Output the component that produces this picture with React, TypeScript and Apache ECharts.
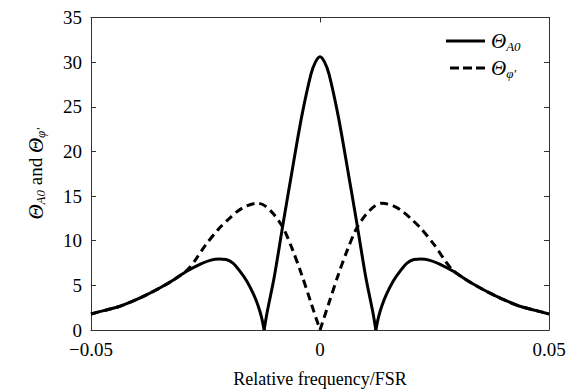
import React, { useEffect, useRef } from "react";
import * as echarts from "echarts";

const xTicks = [-0.05, 0, 0.05];
const yTicks = [0, 5, 10, 15, 20, 25, 30, 35];
const legendNames = ["A0", "φ′"];

const xA0 = [
  -0.05, -0.047, -0.044, -0.041, -0.038, -0.035, -0.032, -0.029, -0.026, -0.024, -0.022, -0.0205, -0.019,
  -0.0175, -0.016, -0.0145, -0.0135, -0.0128, -0.0122, -0.0115, -0.010, -0.008, -0.006, -0.004, -0.002, -0.001, 0,
  0.001, 0.002, 0.004, 0.006, 0.008, 0.010, 0.0115, 0.0122, 0.0128, 0.0135, 0.0145, 0.016, 0.0175, 0.019,
  0.0205, 0.022, 0.024, 0.026, 0.029, 0.032, 0.035, 0.038, 0.041, 0.044, 0.047, 0.05,
];
const yA0 = [
  1.8, 2.2, 2.6, 3.2, 3.9, 4.7, 5.6, 6.6, 7.4, 7.8, 7.95, 7.9, 7.5,
  6.6, 5.5, 4.0, 2.7, 1.5, 0, 2.1, 5.9, 12.1, 18.1, 23.9, 28.6, 30.0, 30.6,
  30.0, 28.6, 23.9, 18.1, 12.1, 5.9, 2.1, 0, 1.5, 2.7, 4.0, 5.5, 6.6, 7.5,
  7.9, 7.95, 7.8, 7.4, 6.6, 5.6, 4.7, 3.9, 3.2, 2.6, 2.2, 1.8,
];

const xPhi = [
  -0.05, -0.047, -0.044, -0.041, -0.038, -0.035, -0.032, -0.029, -0.027, -0.025, -0.022, -0.020, -0.018,
  -0.016, -0.0136, -0.012, -0.010, -0.008, -0.006, -0.004, -0.002, 0,
  0.002, 0.004, 0.006, 0.008, 0.010, 0.012, 0.0136, 0.016, 0.018, 0.020, 0.022, 0.025, 0.027, 0.029,
  0.032, 0.035, 0.038, 0.041, 0.044, 0.047, 0.05,
];
const yPhi = [
  1.8, 2.2, 2.6, 3.2, 3.9, 4.7, 5.6, 6.7, 8.0, 9.5, 11.4, 12.4, 13.3,
  13.9, 14.2, 13.9, 12.9, 11.4, 9.0, 6.2, 3.1, 0,
  3.1, 6.2, 9.0, 11.4, 12.9, 13.9, 14.2, 13.9, 13.3, 12.4, 11.4, 9.5, 8.0, 6.7,
  5.6, 4.7, 3.9, 3.2, 2.6, 2.2, 1.8,
];

const FONT = "Liberation Serif";

const rich = {
  t: { fontFamily: FONT, fontStyle: "italic", fontSize: 21, color: "#000" },
  s: { fontFamily: FONT, fontStyle: "italic", fontSize: 13, color: "#000", padding: [10, 0, 0, 0] },
  n: { fontFamily: FONT, fontSize: 19, color: "#000" },
  d: { fontFamily: FONT, fontSize: 19, color: "#000" },
};

// split a curve into segments at its zero points so that cusps stay sharp
function segments(xs: number[], ys: number[]) {
  const out: number[][][] = [];
  let cur: number[][] = [];
  xs.forEach((x, i) => {
    cur.push([x, ys[i]]);
    if (ys[i] === 0 && i > 0 && i < xs.length - 1) {
      out.push(cur);
      cur = [[x, ys[i]]];
    }
  });
  out.push(cur);
  return out;
}

export default function App() {
  const ref = useRef<HTMLDivElement>(null);
  useEffect(() => {
    if (!ref.current) return;
    const chart = echarts.init(ref.current, null, { renderer: "svg" });
    const axisLine = { show: true, onZero: false, lineStyle: { color: "#333", width: 1 } };
    const tick = { show: true, inside: true, length: 5, lineStyle: { color: "#333" } };
    const solidSeries = segments(xA0, yA0).map((seg) => ({
      name: "A0",
      type: "line",
      data: seg,
      symbol: "none",
      smooth: 0.3,
      lineStyle: { color: "#000", width: 3 },
      itemStyle: { color: "#000" },
    }));
    const dashedSeries = segments(xPhi, yPhi).map((seg) => ({
      name: "phi",
      type: "line",
      data: seg,
      symbol: "none",
      smooth: 0.3,
      lineStyle: { color: "#000", width: 3, type: [8, 5] },
      itemStyle: { color: "#000" },
    }));
    chart.setOption({
      animation: false,
      backgroundColor: "#fff",
      textStyle: { fontFamily: FONT },
      grid: { left: 83, right: 34, top: 9, bottom: 70 },
      graphic: [
        { type: "line", shape: { x1: 438, y1: 33, x2: 477, y2: 33 }, style: { stroke: "#000", lineWidth: 3 } },
        {
          type: "text",
          x: 483,
          y: 33,
          style: { text: "{t|Θ}{s|" + legendNames[0] + "}", rich, verticalAlign: "middle" },
        },
        {
          type: "line",
          shape: { x1: 442, y1: 60, x2: 477, y2: 60 },
          style: { stroke: "#000", lineWidth: 3, lineDash: [9, 4] },
        },
        {
          type: "text",
          x: 483,
          y: 60,
          style: { text: "{t|Θ}{s|" + legendNames[1] + "}", rich, verticalAlign: "middle" },
        },
      ],
      xAxis: [
        {
          type: "value",
          min: -0.05,
          max: 0.05,
          interval: 0.05,
          axisLine,
          axisTick: tick,
          splitLine: { show: false },
          axisLabel: {
            margin: 10,
            rich,
            formatter: (v: number) => {
              const r = Math.round(v * 100) / 100;
              const t = xTicks.find((k) => Math.abs(k - r) < 1e-9);
              if (t === undefined) return "";
              return "{d|" + (t < 0 ? "\u2212" + String(-t) : String(t)) + "}";
            },
          },
          name: "Relative frequency/FSR",
          nameLocation: "middle",
          nameGap: 40,
          nameTextStyle: { fontFamily: FONT, fontSize: 18, color: "#000" },
        },
        {
          type: "value",
          position: "top",
          min: -0.05,
          max: 0.05,
          interval: 0.05,
          axisLine,
          axisTick: tick,
          axisLabel: { show: false },
          splitLine: { show: false },
        },
      ],
      yAxis: [
        {
          type: "value",
          min: yTicks[0],
          max: yTicks[yTicks.length - 1],
          interval: 5,
          axisLine,
          axisTick: tick,
          splitLine: { show: false },
          axisLabel: { margin: 9, rich, formatter: (v: number) => "{d|" + v + "}" },
          name: "{t|Θ}{s|A0}{n| and }{t|Θ}{s|φ′}",
          nameLocation: "middle",
          nameRotate: 90,
          nameGap: 44,
          nameTextStyle: { rich },
        },
        {
          type: "value",
          position: "right",
          min: 0,
          max: 35,
          interval: 5,
          axisLine,
          axisTick: tick,
          axisLabel: { show: false },
          splitLine: { show: false },
        },
      ],
      series: [...solidSeries, ...dashedSeries],
    });
    return () => chart.dispose();
  }, []);
  return <div ref={ref} style={{ width: 575, height: 392 }} />;
}
